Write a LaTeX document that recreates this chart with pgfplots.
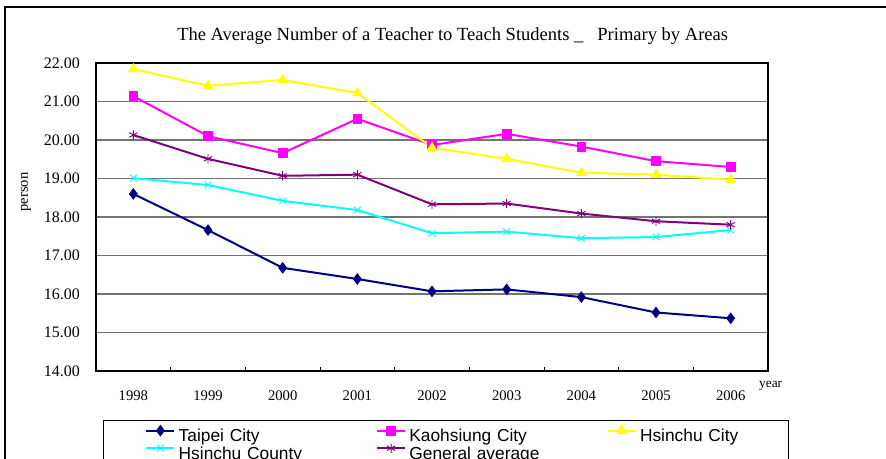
\documentclass[border=0pt]{standalone}
\usepackage{fontspec}
\setmainfont{Liberation Serif}
\newfontfamily\legfont{Liberation Sans}
\usepackage{pgfplots}
\pgfplotsset{compat=1.18}
\definecolor{cNavy}{RGB}{0,0,128}
\definecolor{cMag}{RGB}{255,0,255}
\definecolor{cYel}{RGB}{255,255,0}
\definecolor{cCyan}{RGB}{0,255,255}
\definecolor{cPurp}{RGB}{128,0,128}
\begin{document}
\begin{tikzpicture}
\path[use as bounding box] (0pt,0pt) rectangle (664.5pt,-343.5pt);
\clip (0pt,0pt) rectangle (664.5pt,-343.5pt);
\draw[black, line width=1pt] (3.75pt,-5.25pt) rectangle (700pt,-380pt);
\node[font=\fontsize{13.9}{16}\selectfont] at (339.5pt,-27pt) {The Average Number of a Teacher to Teach Students \_\ \ \ Primary by Areas};
\node[font=\fontsize{11}{13}\selectfont, rotate=90] at (19.5pt,-144pt) {person};
\node[font=\fontsize{10}{12}\selectfont] at (578pt,-289.5pt) {year};
\begin{axis}[
  at={(72pt,-278.25pt)}, anchor=south west,
  scale only axis, width=504pt, height=231pt,
  xmin=-0.5, xmax=8.5, ymin=14, ymax=22,
  xtick={-0.5,0.5,1.5,2.5,3.5,4.5,5.5,6.5,7.5,8.5},
  x tick label as interval,
  xticklabels={1998,1999,2000,2001,2002,2003,2004,2005,2006},
  ytick={14,15,16,17,18,19,20,21,22},
  xtick pos=lower, ytick pos=left,
  tick align=inside, major tick length=3pt,
  ytick style={draw=none},
  xtick style={black, line width=0.5pt},
  tick label style={font=\fontsize{12}{14}\selectfont},
  yticklabel style={/pgf/number format/fixed, /pgf/number format/fixed zerofill, /pgf/number format/precision=2, /pgf/number format/assume math mode=true, xshift=-8.5pt},
  xticklabel style={/pgf/number format/assume math mode=true, font=\fontsize{11}{13}\selectfont, yshift=-11pt},
  ymajorgrids, grid style={black!55, line width=0.9pt},
  axis line style={black, line width=0.8pt},
  legend columns=3,
  legend cell align=left,
  legend image code/.code={\draw[yshift=4.5pt, mark repeat=2,mark phase=2] plot coordinates {(0pt,0pt)(10.5pt,0pt)(21pt,0pt)};},
  legend style={at={(0.0104,-0.159)}, anchor=north west, draw=black, line width=0.6pt,
    font=\legfont\fontsize{13}{15}\selectfont,
    inner xsep=31.5pt, inner ysep=3.5pt, row sep=0pt,
    nodes={inner sep=0pt, text height=9pt, text depth=1.3pt, line width=0.6pt},
    /tikz/every odd column/.append style={column sep=2.5pt},
    /tikz/every even column/.append style={column sep=3pt},
    /tikz/column 2/.style={nodes={text width=145pt}},
    /tikz/column 4/.style={nodes={text width=145pt}},
    /tikz/column 6/.style={nodes={text width=80pt}}},
]
\addplot[color=cNavy, line width=1.5pt, mark=diamond*, mark size=4pt, mark options={solid, fill=cNavy, line width=0.5pt}]
coordinates {(0,18.60) (1,17.66) (2,16.68) (3,16.39) (4,16.07) (5,16.12) (6,15.92) (7,15.52) (8,15.37)};
\addlegendentry{Taipei City}
\addplot[color=cMag, line width=1.5pt, mark=square*, mark size=3.3pt, mark options={solid, fill=cMag, line width=0.5pt}]
coordinates {(0,21.14) (1,20.10) (2,19.66) (3,20.55) (4,19.87) (5,20.16) (6,19.83) (7,19.45) (8,19.30)};
\addlegendentry{Kaohsiung City}
\addplot[color=cYel, line width=1.5pt, mark=triangle*, mark size=4.2pt, mark options={solid, fill=cYel, line width=0.5pt}]
coordinates {(0,21.84) (1,21.41) (2,21.56) (3,21.22) (4,19.80) (5,19.51) (6,19.15) (7,19.10) (8,18.97)};
\addlegendentry{Hsinchu City}
\addplot[color=cCyan, line width=1.5pt, mark=x, mark size=3.5pt, mark options={solid, line width=0.7pt}]
coordinates {(0,19.01) (1,18.83) (2,18.42) (3,18.18) (4,17.58) (5,17.62) (6,17.45) (7,17.48) (8,17.66)};
\addlegendentry{Hsinchu County}
\addplot[color=cPurp, line width=1.5pt, mark=asterisk, mark size=3.5pt, mark options={solid, line width=0.7pt}]
coordinates {(0,20.13) (1,19.51) (2,19.07) (3,19.10) (4,18.33) (5,18.35) (6,18.09) (7,17.89) (8,17.80)};
\addlegendentry{General average}
\end{axis}
\end{tikzpicture}
\end{document}
